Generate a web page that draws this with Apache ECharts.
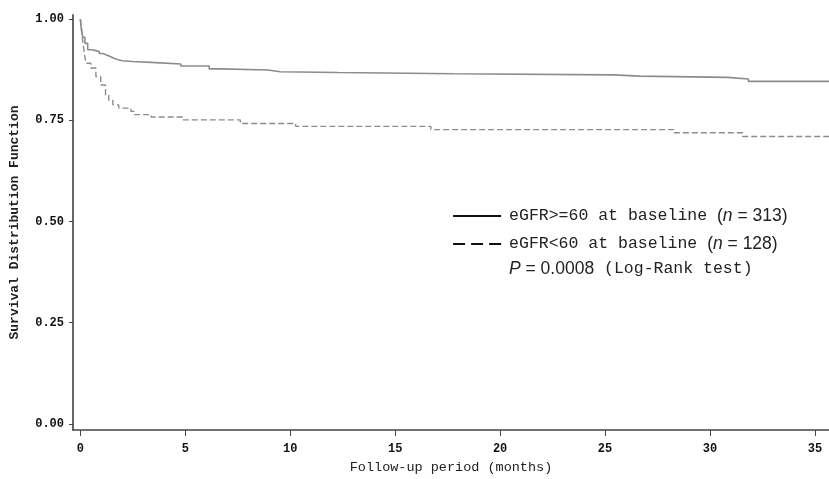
<!DOCTYPE html>
<html>
<head>
<meta charset="utf-8">
<script src="https://cdn.jsdelivr.net/npm/echarts@6/dist/echarts.min.js"></script>
<style>
  html, body { margin: 0; padding: 0; background: #fff; }
  #echarts_box { width: 829px; height: 479px; }
</style>
</head>
<body>
<div id="echarts_box"></div>
<script>
// Kaplan-Meier estimates (months, survival)
var highTimes = [0, 0.05, 0.12, 0.22, 0.35, 0.55, 0.75, 0.9, 1.07, 1.25, 1.45, 1.6, 1.77, 2.0, 2.48, 3.36, 4.79, 6.14, 6.7, 8.95, 9.52, 12.27, 17.8, 25.4, 26.65, 30.83, 31.83, 36];
var highSurv = [1.0, 0.973, 0.955, 0.940, 0.924, 0.922, 0.920, 0.915, 0.911, 0.907, 0.903, 0.900, 0.897, 0.895, 0.893, 0.889, 0.884, 0.877, 0.874, 0.870, 0.868, 0.865, 0.862, 0.859, 0.856, 0.852, 0.846, 0.846];
var lowTimes = [0, 0.06, 0.11, 0.19, 0.27, 0.5, 0.74, 0.97, 1.2, 1.35, 1.55, 1.83, 2.41, 2.57, 3.37, 4.87, 7.62, 10.26, 16.7, 28.27, 31.56, 36];
var lowSurv = [1.0, 0.975, 0.948, 0.915, 0.891, 0.879, 0.858, 0.837, 0.813, 0.800, 0.788, 0.780, 0.772, 0.764, 0.758, 0.751, 0.742, 0.735, 0.727, 0.719, 0.710, 0.710];
var xTicks = [0, 5, 10, 15, 20, 25, 30, 35];
var yTicks = [0, 0.25, 0.5, 0.75, 1];
var seriesNames = ["eGFR>=60 at baseline", "eGFR<60 at baseline"];
var groupN = [313, 128];

function zip(a, b) {
  return a.map(function (t, i) { return [t, b[i]]; });
}

var mono = "'Liberation Mono', 'DejaVu Sans Mono', monospace";
var sans = "'Liberation Sans', Arial, sans-serif";
var noMark = { color: "rgba(0,0,0,0)", borderWidth: 0 };

var myecharts = echarts.init(document.getElementById("echarts_box"));
var option = {
  animation: false,
  backgroundColor: "#fff",
  grid: { left: 72, right: 0, top: 15, bottom: 48 },
  xAxis: {
    type: "value",
    min: -0.35,
    max: 35.67,
    name: "Follow-up period (months)",
    nameLocation: "middle",
    nameGap: 30,
    nameTextStyle: { fontFamily: mono, fontSize: 13.5, color: "#222" },
    splitLine: { show: false },
    axisLine: { onZero: false, lineStyle: { color: "#444", width: 1.5 } },
    axisTick: { customValues: xTicks, length: 6, lineStyle: { color: "#444" } },
    axisLabel: {
      customValues: xTicks,
      margin: 13,
      fontFamily: mono,
      fontWeight: "bold",
      fontSize: 12,
      color: "#111"
    }
  },
  yAxis: {
    type: "value",
    min: -0.015,
    max: 1.01,
    name: "Survival Distribution Function",
    nameLocation: "middle",
    nameRotate: 90,
    nameGap: 52,
    nameTextStyle: { fontFamily: mono, fontWeight: "bold", fontSize: 13, color: "#222" },
    splitLine: { show: false },
    axisLine: { onZero: false, lineStyle: { color: "#666", width: 2 } },
    axisTick: { customValues: yTicks, length: 4, lineStyle: { color: "#444" } },
    axisLabel: {
      customValues: yTicks,
      margin: 9,
      fontFamily: mono,
      fontWeight: "bold",
      fontSize: 12,
      color: "#111",
      formatter: function (v) { return v.toFixed(2); }
    }
  },
  legend: {
    orient: "vertical",
    left: 447,
    top: 202,
    itemWidth: 48,
    itemHeight: 14,
    itemGap: 10,
    data: [
      { name: seriesNames[0], itemStyle: noMark, lineStyle: { color: "#111", width: 2.2, type: "solid" } },
      { name: seriesNames[1], itemStyle: noMark, lineStyle: { color: "#111", width: 2.2, type: [12, 6] } }
    ],
    formatter: function (name) {
      var i = seriesNames.indexOf(name);
      return "{m|" + name + " }{s|(}{i|n}{s| = " + groupN[i] + ")}";
    },
    textStyle: {
      color: "#222",
      padding: [0, 0, 0, 3],
      rich: {
        m: { fontFamily: mono, fontSize: 16.5, color: "#222", lineHeight: 20 },
        s: { fontFamily: sans, fontSize: 17.5, color: "#222", lineHeight: 20 },
        i: { fontFamily: sans, fontSize: 17.5, fontStyle: "italic", color: "#222", lineHeight: 20 }
      }
    }
  },
  graphic: [
    {
      type: "text",
      left: 509,
      top: 260,
      style: {
        text: "{i|P}{s| = 0.0008}{m| (Log-Rank test)}",
        rich: {
          i: { fontFamily: sans, fontSize: 17.5, fontStyle: "italic", fill: "#222", lineHeight: 20 },
          s: { fontFamily: sans, fontSize: 17.5, fill: "#222", lineHeight: 20 },
          m: { fontFamily: mono, fontSize: 16.5, fill: "#222", lineHeight: 20 }
        }
      }
    }
  ],
  series: [
    {
      name: seriesNames[0],
      type: "line",
      step: "end",
      symbol: "none",
      data: zip(highTimes, highSurv),
      lineStyle: { color: "#8c8c8c", width: 1.6, type: "solid" },
      itemStyle: { color: "#8c8c8c" }
    },
    {
      name: seriesNames[1],
      type: "line",
      step: "end",
      symbol: "none",
      data: zip(lowTimes, lowSurv),
      lineStyle: { color: "#8c8c8c", width: 1.4, type: [6, 3] },
      itemStyle: { color: "#8c8c8c" }
    }
  ]
};
myecharts.setOption(option);
</script>
</body>
</html>
